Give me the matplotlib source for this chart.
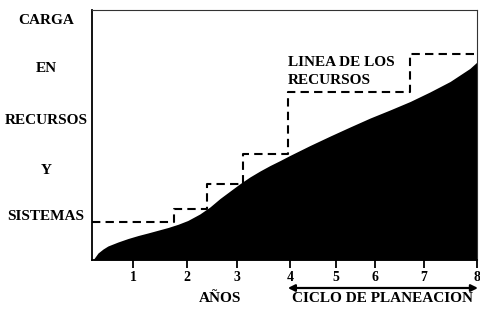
import matplotlib
matplotlib.use("Agg")
import matplotlib.pyplot as plt

# --- data ---------------------------------------------------------------
# workload curve (years, load)
load_x = [0.0, 0.02, 0.125, 0.23, 0.33, 0.54, 0.75, 0.96, 1.16, 1.37, 1.58,
          1.79, 1.99, 2.24, 2.45, 2.66, 2.87, 3.08, 3.28, 3.49, 3.70, 3.91,
          4.11, 4.32, 4.53, 4.95, 5.36, 5.78, 6.19, 6.61, 7.02, 7.44, 7.85,
          8.0]
load_y = [0.0, 0.0, 0.28, 0.44, 0.56, 0.72, 0.86, 0.98, 1.08, 1.19, 1.30,
          1.43, 1.58, 1.84, 2.12, 2.46, 2.76, 3.06, 3.32, 3.56, 3.78, 3.98,
          4.18, 4.38, 4.58, 4.96, 5.32, 5.68, 6.00, 6.34, 6.72, 7.14, 7.66,
          7.92]
# resource step line: change points and levels
step_x = [0.0, 1.70, 2.39, 3.14, 4.07, 6.61, 8.0]
step_y = [1.54, 2.04, 3.04, 4.24, 6.72, 8.24, 8.24]
# x ticks
tick_pos = [0.85, 1.97, 3.01, 4.11, 5.07, 5.88, 6.90, 8.0]
tick_labels = ["1", "2", "3", "4", "5", "6", "7", "8"]
ylabel_lines = ["CARGA", "EN", "RECURSOS", "Y", "SISTEMAS"]
# planning cycle span (years)
cycle_span = [4.11, 8.0]

plt.rcParams['font.family'] = ['Liberation Serif', 'DejaVu Serif']
plt.rcParams['font.weight'] = 'bold'

fig = plt.figure(figsize=(4.8, 3.09), dpi=100)
W, H = 480, 309
ax = fig.add_axes([92 / W, 1 - 260 / H, (477 - 92) / W, (260 - 10) / H])
ax.set_xlim(0, 8)
ax.set_ylim(0, 10)

ax.fill_between(load_x, load_y, 0, color='black', lw=0)
ax.step(step_x, step_y, where='post', color='black', lw=1.5,
        linestyle=(0, (4, 2.5)), clip_on=False)

ax.set_xticks(tick_pos)
ax.set_xticklabels(tick_labels, fontsize=10, fontweight='bold')
ax.set_yticks([])
ax.tick_params(axis='x', direction='out', length=6, width=1.3, pad=2)

for s in ['left', 'bottom']:
    ax.spines[s].set_linewidth(1.3)
for s in ['top', 'right']:
    ax.spines[s].set_linewidth(0.8)
    ax.spines[s].set_color('#333333')

# y "label" lines
ypix = [20, 68, 120, 170, 217]
for txt, yp in zip(ylabel_lines, ypix):
    fig.text(46 / W, 1 - yp / H, txt, ha='center', va='center',
             fontsize=11, fontweight='bold')

fig.text(288 / W, 1 - 62 / H, "LINEA DE LOS", ha='left', va='center',
         fontsize=11, fontweight='bold')
fig.text(288 / W, 1 - 80 / H, "RECURSOS", ha='left', va='center',
         fontsize=11, fontweight='bold')

fig.text(220 / W, 1 - 298 / H, "AÑOS", ha='center', va='center',
         fontsize=11, fontweight='bold')
fig.text(382 / W, 1 - 299 / H, "CICLO DE PLANEACION", ha='center', va='center',
         fontsize=11, fontweight='bold')

arrow_y = 1 - 288 / H
ax.annotate("", xy=(cycle_span[0] - 0.04, arrow_y),
            xytext=(cycle_span[1] + 0.02, arrow_y),
            xycoords=('data', 'figure fraction'),
            textcoords=('data', 'figure fraction'),
            annotation_clip=False,
            arrowprops=dict(arrowstyle='<|-|>', color='black', lw=1.6,
                            mutation_scale=10, shrinkA=0, shrinkB=0))

fig.savefig("out.png", dpi=100)
